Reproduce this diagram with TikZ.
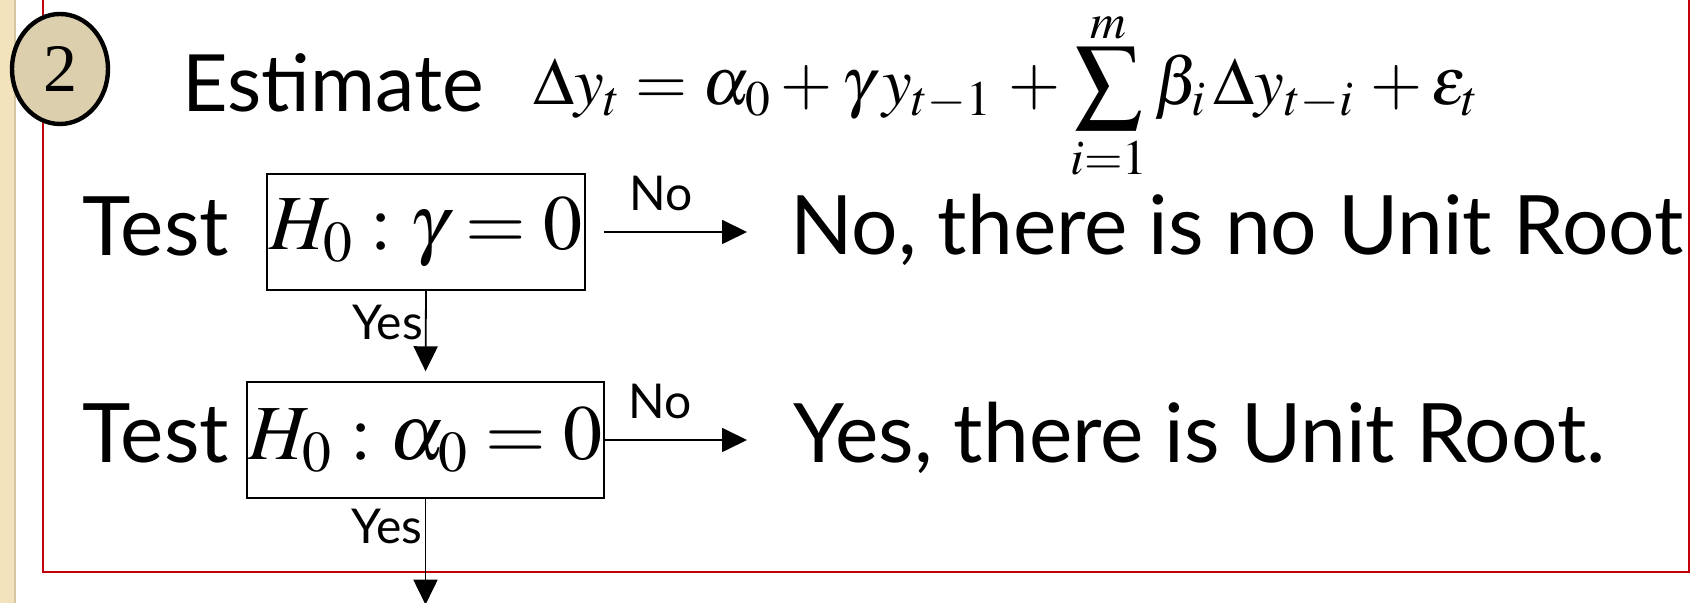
\documentclass[tikz,border=0pt]{standalone}
\usepackage[no-math]{fontspec}
\usepackage{mathptmx}
\setmainfont{Lato}
\newfontfamily\digitfont{Liberation Serif}
\usetikzlibrary{arrows.meta,positioning,shapes.geometric,calc}
\definecolor{framered}{HTML}{C4000A}
\definecolor{badgesand}{HTML}{DCCFAD}
\definecolor{stripsand}{HTML}{F2E3BD}
\definecolor{stripedge}{HTML}{D6C7A2}
\tikzset{
  badge/.style={ellipse,draw=black,line width=2.2pt,fill=badgesand,minimum width=48pt,minimum height=55pt,inner sep=0pt,font=\digitfont\fontsize{34}{34}\selectfont},
  bigtext/.style={anchor=base west,inner sep=0pt,font=\fontsize{41}{41}\selectfont},
  hypbox/.style={rectangle,draw=black,line width=0.7pt,minimum height=58pt,inner sep=0pt,font=\fontsize{39}{39}\selectfont},
  flow/.style={-{Triangle[length=12.5pt,width=12pt]},line width=0.9pt},
  smalllab/.style={font=\fontsize{24}{24}\selectfont,inner sep=1pt}
}
\begin{document}
\begin{tikzpicture}[x=0.5pt,y=-0.5pt]
  \useasboundingbox (0,0) rectangle (1692,603);
  \clip (0,0) rectangle (1692,603);
  % left strip and frame
  \fill[stripsand] (0,0) rectangle (16,603);
  \draw[stripedge,line width=1pt] (15,0) -- (15,603);
  \draw[framered,line width=1.1pt] (43,-5) -- (43,572) -- (1689,572) -- (1689,-5);
  % step number and model
  \node[badge] (two) at (60,69) {2};
  \node[bigtext,font=\fontsize{39.5}{39.5}\selectfont] (estimate) at (182,112) {Estimate};
  \node[anchor=base west,inner sep=0pt,font=\fontsize{33.5}{33.5}\selectfont] (model) at (533,105)
    {$\displaystyle \Delta y_t=\alpha_0+\gamma\,y_{t-1}\,+\sum_{i=1}^{\raisebox{-2.5pt}{$\scriptstyle m$}}\beta_i\,\Delta y_{t-i}\,+\varepsilon_t$};
  % first test
  \node[bigtext] (test1) at (82,256) {Test};
  \node[hypbox,minimum width=159pt] (gamma0) at (426,232) {$H_0:\gamma=0$};
  \node[bigtext] (noroot) at (790,255) {No, there is no Unit Root};
  % second test
  \node[bigtext] (test2) at (82,463) {Test};
  \node[hypbox,minimum width=178.5pt] (alpha0) at (425.5,440) {$H_0:\alpha_0=0$};
  \node[bigtext] (root) at (793,463) {Yes, there is Unit Root.};
  \coordinate[below=53pt of alpha0.south] (next);
  % connectors
  \draw[flow] ([xshift=9pt]gamma0.east) -- ($(gamma0.east -| noroot.west)+(-21.5pt,0)$)
    node[smalllab,pos=0.4,above=9pt] {No};
  \draw[flow] (alpha0.east) -- ($(alpha0.east -| root.west)+(-23pt,0)$)
    node[smalllab,pos=0.39,above=9pt] {No};
  \draw[flow,shorten >=5pt] (gamma0.south) -- (alpha0.north)
    node[smalllab,pos=0.35,left] {Yes};
  \draw[flow] (alpha0.south) -- (next)
    node[smalllab,pos=0.26,left] {Yes};
\end{tikzpicture}
\end{document}
